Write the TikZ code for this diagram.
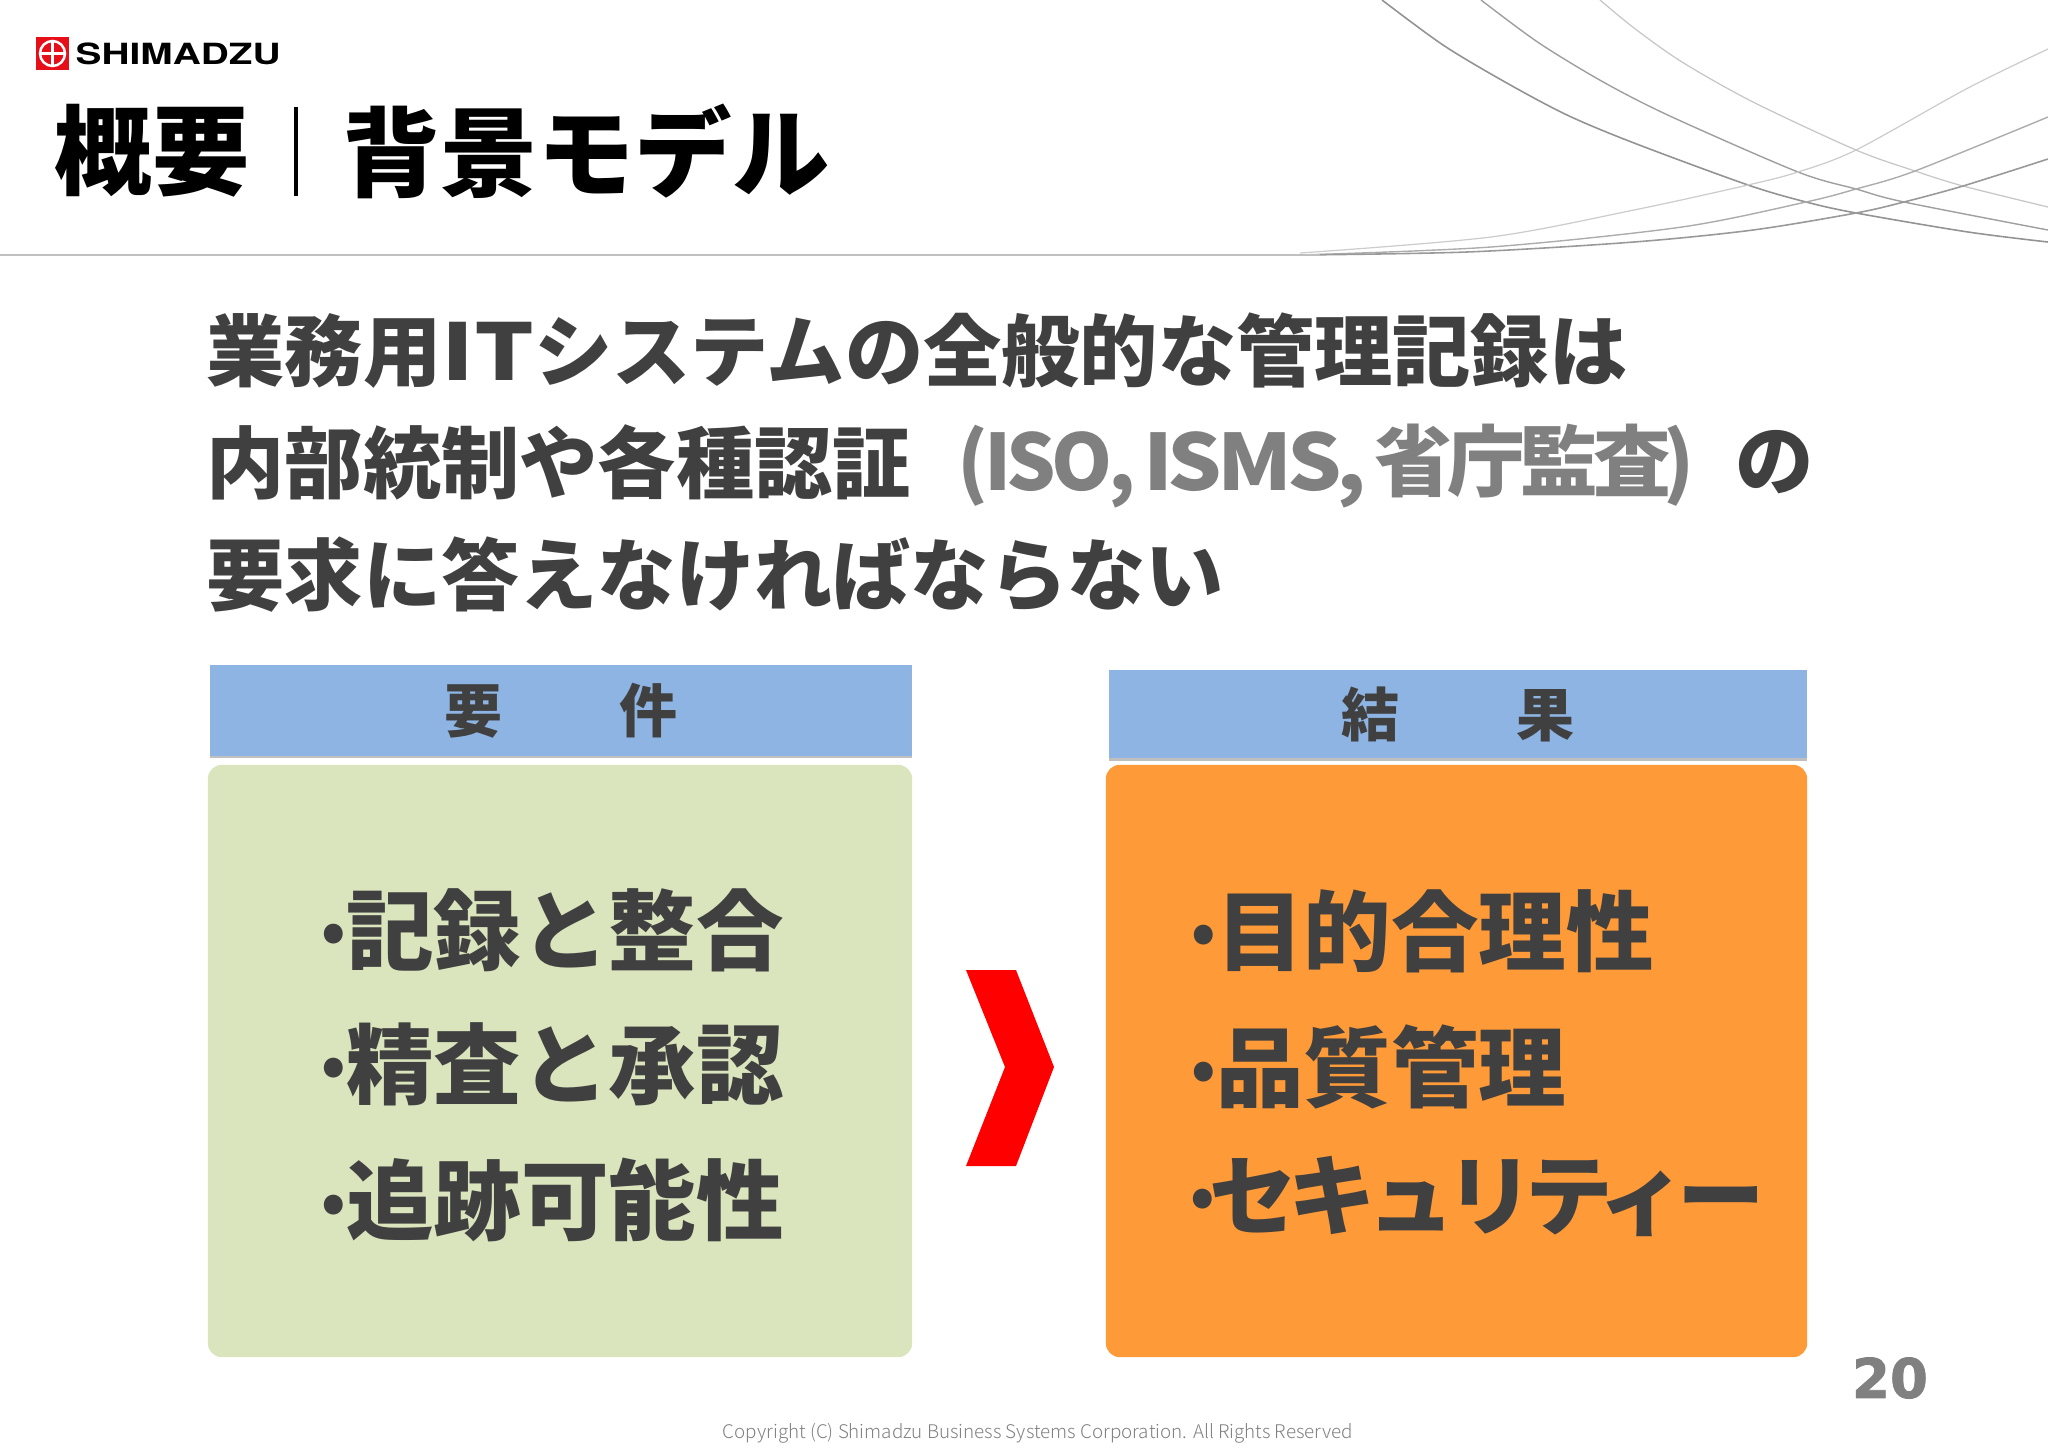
\documentclass[tikz,border=0pt]{standalone}
\usepackage{fontspec}
\usetikzlibrary{shadows}
\newfontfamily\jpblack{Noto Sans CJK JP Black}
\newfontfamily\jptight[LetterSpace=-6]{Noto Sans CJK JP Black}
\newfontfamily\jpkana[LetterSpace=-10]{Noto Sans CJK JP Black}
\newfontfamily\jplight{Noto Sans CJK JP Light}
\newfontfamily\logofont[FakeStretch=1.33]{TeX Gyre Heros Bold}
\newfontfamily\pagefont[FakeBold=1.5]{DejaVu Sans Bold}
\definecolor{textgray}{HTML}{404040}
\definecolor{midgray}{HTML}{808080}
\definecolor{headblue}{HTML}{8EB4E3}
\definecolor{boxgreen}{HTML}{DAE4BD}
\definecolor{boxorange}{HTML}{FF9A38}
\definecolor{logored}{HTML}{E60F19}
\newcommand{\itemdot}{\raisebox{0.12em}{\scalebox{0.7}{•}}}
\tikzset{
    titletext/.style={anchor=west,inner sep=0pt,text=black,font=\jpblack\fontsize{27.7pt}{27.7pt}\selectfont},
    maintext/.style={anchor=west,inner sep=0pt,text=textgray,font=\jpblack\fontsize{22.25pt}{22.25pt}\selectfont},
    itemtext/.style={anchor=west,inner sep=0pt,text=textgray,font=\jpblack\fontsize{24.9pt}{24.9pt}\selectfont},
    headbox/.style={rectangle,fill=headblue,inner sep=0pt,text=textgray,font=\jpblack\fontsize{16.5pt}{16.5pt}\selectfont,drop shadow={shadow xshift=0pt,shadow yshift=-0.8pt,opacity=0.5}},
    bodybox/.style={rectangle,rounded corners=4pt,inner sep=0pt},
}
\begin{document}
\begin{tikzpicture}[x=0.01cm,y=-0.01cm]
    \useasboundingbox (0,0) rectangle (2048,1448);
    % background curves
    \draw[gray!85,line width=0.45pt] plot[smooth] coordinates {(1382,0) (1443,45) (1505,82) (1567,115) (1634,143) (1748,185) (1806,202) (1856,213) (1968,232) (2048,242)};
    \draw[gray!75,line width=0.4pt] plot[smooth] coordinates {(1481,0) (1539,43) (1605,83) (1672,117) (1798,172) (1856,189) (1904,202) (2048,230)};
    \draw[gray!45,line width=0.35pt] plot[smooth] coordinates {(1600,0) (1634,28) (1682,62) (1753,102) (1856,150) (1915,171) (1963,186) (2048,207)};
    \draw[gray!40,line width=0.35pt] plot[smooth] coordinates {(1300,253) (1491,237) (1634,210) (1748,185) (1798,172) (1856,150) (1968,88) (2048,49)};
    \draw[gray!65,line width=0.4pt] plot[smooth] coordinates {(1300,255) (1491,247) (1682,227) (1806,202) (1856,189) (1915,171) (2048,117)};
    \draw[gray!80,line width=0.45pt] plot[smooth] coordinates {(1300,255) (1467,252) (1634,242) (1753,230) (1856,213) (1904,202) (1963,186) (2048,159)};
    \draw[gray!50,line width=0.6pt] (0,255) -- (1320,255);
    % logo
    \node[rectangle,fill=logored,minimum width=0.33cm,minimum height=0.33cm,inner sep=0pt] (logomark) at (52.5,53.5) {};
    \node[circle,draw=white,line width=0.7pt,minimum size=0.25cm,inner sep=0pt] (logoring) at (logomark) {};
    \draw[white,line width=0.7pt] (logoring.north) -- (logoring.south) (logoring.west) -- (logoring.east);
    \node[anchor=west,inner sep=0pt,text=black,font=\logofont\fontsize{8.3pt}{8.3pt}\selectfont] (logoname) at (75,53.5) {SHIMADZU};
    % title
    \node[titletext] (titleleft) at (54,151) {概要};
    \draw[black,line width=1.2pt] (296,107) -- (296,196);
    \node[titletext] (titleright) at (342,151) {背景モデル};
    % main text
    \node[maintext] (lineone) at (206,351) {業務用\scalebox{1.2}[1]{IT}システムの全般的な管理記録は};
    \node[maintext] (linetwo) at (206,462) {内部統制や各種認証};
    \node[maintext,text=midgray,font=\jptight\fontsize{22.1pt}{22.1pt}\selectfont] (linetwomid) at (957,466) {(ISO,\hspace{0.1em}\scalebox{1.1}[1]{ISMS,}\hspace{0.1em}省庁監査\hspace{-0.1em})};
    \node[maintext] (linetwoend) at (1735,462) {の};
    \node[maintext] (linethree) at (206,575) {要求に答えなければならない};
    % boxes
    \node[headbox,minimum width=7.02cm,minimum height=0.90cm] (reqhead) at (561,710.5) {要\hspace{2em}件};
    \node[bodybox,fill=boxgreen,minimum width=7.04cm,minimum height=5.92cm] (reqbox) at (560,1061) {};
    \node[headbox,minimum width=6.98cm,minimum height=0.88cm] (reshead) at (1458,714) {結\hspace{2em}果};
    \node[bodybox,fill=boxorange,minimum width=7.01cm,minimum height=5.92cm] (resbox) at (1456.5,1061) {};
    % items
    \node[itemtext] (reqone) at (321,930) {\itemdot 記録と整合};
    \node[itemtext] (reqtwo) at (321,1064) {\itemdot 精査と承認};
    \node[itemtext] (reqthree) at (321,1200) {\itemdot 追跡可能性};
    \node[itemtext] (resone) at (1191,931) {\itemdot 目的合理性};
    \node[itemtext] (restwo) at (1191,1067) {\itemdot 品質管理};
    \node[itemtext,font=\jpkana\fontsize{24.9pt}{24.9pt}\selectfont] (resthree) at (1190,1196) {\itemdot\hspace{-0.06em}セキュリティー};
    % arrow
    \fill[red] (966,970) -- (1016,970) -- (1054,1067) -- (1016,1166) -- (966,1166) -- (1005,1067) -- cycle;
    % footer
    \node[inner sep=0pt,text=midgray,font=\pagefont\fontsize{15.5pt}{15.5pt}\selectfont] (pagenum) at (1890,1378) {20};
    \node[inner sep=0pt,text=midgray,font=\jplight\fontsize{5.35pt}{5.35pt}\selectfont] (copyright) at (1038,1433) {Copyright (C) Shimadzu Business Systems Corporation. All Rights Reserved};
\end{tikzpicture}
\end{document}
